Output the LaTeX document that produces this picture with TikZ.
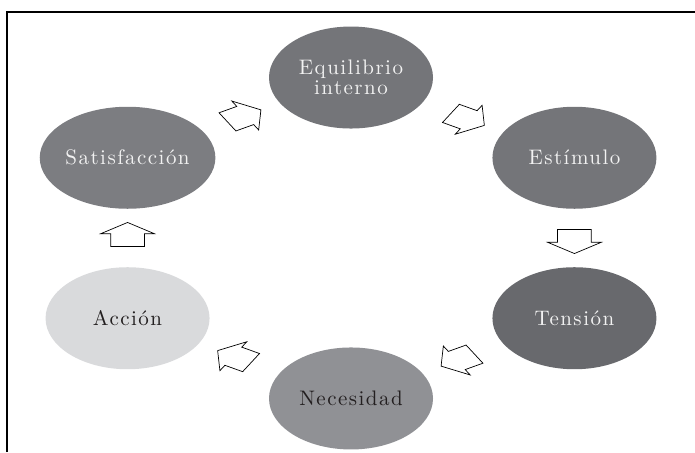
\documentclass[tikz,border=0pt]{standalone}
\usepackage{fontspec}
\usepackage{tikz}
\usetikzlibrary{shapes.geometric, shapes.arrows, calc}

\newfontfamily\stagefont{lmroman10-regular.otf}[LetterSpace=7]

\definecolor{stagedark}{HTML}{747579}
\definecolor{stagedarker}{HTML}{68696D}
\definecolor{stagemid}{HTML}{7C7D81}
\definecolor{stagelight}{HTML}{909195}
\definecolor{stagepale}{HTML}{D9DADC}
\definecolor{textpale}{HTML}{F2F2F2}
\definecolor{textdark}{HTML}{231F20}

\begin{document}
\begin{tikzpicture}[x=1pt, y=1pt,
    stage/.style={ellipse, minimum width=164pt, minimum height=102pt, inner sep=0pt, align=center,
      font=\stagefont\fontsize{21}{20}\selectfont},
    blockarrow/.style={single arrow, draw=black, fill=white, line width=0.7pt, transform shape,
      minimum height=38.6pt, minimum width=53pt, inner xsep=0pt, inner ysep=16.5pt,
      single arrow head extend=10pt, single arrow tip angle=112}]
  \useasboundingbox (0, 0) rectangle (695, 452);
  \draw [line width=2.5pt] (7, 0) -- (7, 440) -- (695, 440);

  \begin{scope}[shift={(351, 214)}, yscale=0.622]
    \node [stage, fill=stagedark, text=textpale] (equilibrio) at (90:258) {Equilibrio\\interno};
    \node [stage, fill=stagedark, text=textpale] (estimulo) at (30:258) {Estímulo};
    \node [stage, fill=stagedarker, text=textpale] (tension) at (-30:258) {Tensión};
    \node [stage, fill=stagelight, text=textdark] (necesidad) at (-90:258) {Necesidad};
    \node [stage, fill=stagepale, text=textdark] (accion) at (-150:258) {Acción};
    \node [stage, fill=stagemid, text=textpale] (satisfaccion) at (150:258) {Satisfacción};

    \node [blockarrow, rotate=30] (sat-eq) at ($(satisfaccion)!0.5!(equilibrio)$) {};
    \node [blockarrow, rotate=-30] (eq-est) at ($(equilibrio)!0.5!(estimulo)$) {};
    \node [blockarrow, rotate=-90] (est-ten) at ($(estimulo)!0.5!(tension)$) {};
    \node [blockarrow, rotate=-150] (ten-nec) at ($(tension)!0.5!(necesidad)$) {};
    \node [blockarrow, rotate=150] (nec-acc) at ($(necesidad)!0.5!(accion)$) {};
    \node [blockarrow, rotate=90] (acc-sat) at ($(accion)!0.5!(satisfaccion)$) {};
  \end{scope}
\end{tikzpicture}
\end{document}
